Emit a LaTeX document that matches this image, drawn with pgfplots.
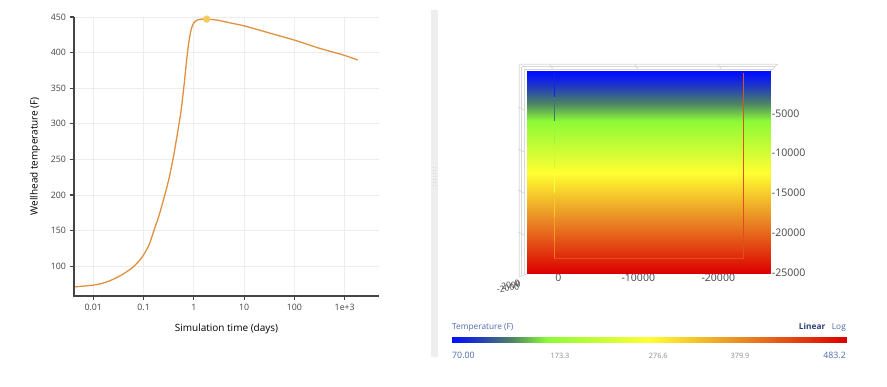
\documentclass[border=0pt]{standalone}
\usepackage{pgfplots}
\pgfplotsset{compat=1.18}
\usepackage{fontspec}
\setmainfont{Open Sans}
\definecolor{cAx}{HTML}{444444}
\definecolor{cGrid}{HTML}{EDEDED}
\definecolor{cLine}{HTML}{E0913F}
\definecolor{cMark}{HTML}{F2CD5D}
\definecolor{cFrame}{HTML}{D8D8D8}
\definecolor{cBlue}{HTML}{4F6AAB}
\definecolor{cDark}{HTML}{2B3F80}
\definecolor{cGray}{HTML}{8A8A8A}
\definecolor{cSep}{HTML}{EEEEEE}
\definecolor{cWell}{HTML}{E0501E}
\pgfplotsset{colormap={wt}{rgb255(0cm)=(0,15,255); rgb255(7cm)=(35,60,190); rgb255(15cm)=(75,130,100); rgb255(24cm)=(140,250,55); rgb255(50cm)=(255,255,50); rgb255(75cm)=(232,130,35); rgb255(100cm)=(220,0,0)}}
\begin{document}
\begin{tikzpicture}
\path[use as bounding box] (0pt,0pt) rectangle (887pt,387pt);
\fill[white] (0pt,0pt) rectangle (887pt,387pt);
% separator
\fill[cSep] (431pt,30.3pt) rectangle (438pt,377pt);
\foreach \yy in {201,204,...,219} {
  \fill[cFrame] (432.6pt,\yy pt) rectangle (433.8pt,\yy pt+1.2pt);
  \fill[cFrame] (435.2pt,\yy pt) rectangle (436.4pt,\yy pt+1.2pt);
}
% ---------------- left chart
\begin{axis}[
  at={(74pt,91.3pt)}, anchor=south west,
  scale only axis, width=305pt, height=279pt,
  xmode=log, xmin=0.00413, xmax=4800,
  ymin=58.7, ymax=450.4,
  axis x line*=bottom, axis y line*=left,
  separate axis lines,
  every outer x axis line/.append style={-, draw=cAx, line width=1.7pt},
  every outer y axis line/.append style={-, draw=cAx, line width=1.7pt},
  xtick align=outside, ytick align=outside, major tick length=4.5pt,
  every tick/.append style={draw=cAx, line width=1.1pt},
  minor tick num=0, xminorticks=false,
  grid=major, major grid style={cGrid, line width=0.8pt},
  xtick={0.01,0.1,1,10,100,1000},
  xticklabels={0.01,0.1,1,10,100,1e+3},
  ytick={100,150,...,450},
  /pgf/number format/assume math mode=true,
  ticklabel style={font=\fontsize{8.8}{10}\selectfont, text=cAx},
  xlabel={Simulation time (days)},
  ylabel={Wellhead temperature (F)},
  label style={font=\fontsize{9.3}{11}\selectfont, text=cAx},
  every axis x label/.style={at={(axis description cs:0.5,-0.1194)}, anchor=center},
  every axis y label/.style={at={(axis description cs:-0.128,0.5)}, rotate=90, anchor=center},
  clip=false,
]
\addplot[cLine, line width=1.3pt, line join=round, smooth, tension=0.45] coordinates {
(0.0041,71) (0.006,72) (0.01,73.5) (0.015,76) (0.021,79.5) (0.03,84.5) (0.04,89.5)
(0.05,94) (0.063,99.5) (0.08,107) (0.1,116) (0.13,131) (0.16,150) (0.2,170)
(0.25,194) (0.32,223) (0.4,257) (0.485,292) (0.55,316) (0.63,351) (0.7,382)
(0.76,405) (0.82,421) (0.88,432) (0.95,439) (1.05,443.5) (1.2,446) (1.5,447)
(1.8,447) (3,445.5) (5,442) (10,437.5) (30,428) (100,417.5) (300,406.5)
(1000,396) (1815,389.5)
};
\addplot[only marks, color=cMark, mark=*, mark size=3.4pt, mark options={draw=cMark, fill=cMark}] coordinates {(1.8,447)};
\end{axis}
\draw[cAx, line width=1.8pt] (74pt,90.45pt) -- (74pt,370.3pt);
\foreach \yy in {100,150,...,450} {
  \draw[cAx, line width=1.1pt] (73pt,91.3pt+\yy pt*0.71226-58.7pt*0.71226) -- (69.5pt,91.3pt+\yy pt*0.71226-58.7pt*0.71226);
}
% ---------------- 3D frame decorations
\begin{scope}[cFrame, line width=0.8pt]
\draw (519.3pt,322.7pt) -- (777.3pt,322.7pt) -- (770.7pt,316pt);
\draw (521.7pt,320.3pt) -- (775pt,320.3pt);
\draw (524.3pt,318pt) -- (772.5pt,318pt);
\draw (519.3pt,322.7pt) -- (519.3pt,110.3pt) -- (526.7pt,113pt);
\draw (521.7pt,320.3pt) -- (521.7pt,111.5pt);
\draw (524.3pt,318pt) -- (524.3pt,112.7pt);
\foreach \xx in {551.7,636.7,720} {\draw (\xx pt-2pt,322.7pt) -- (\xx pt+1pt,318pt);}
\foreach \yy in {277,235,194,152} {\draw (518pt,\yy pt+3pt) -- (524.3pt,\yy pt);}
\end{scope}
\node[text=cAx, font=\fontsize{8.5}{10}\selectfont, rotate=8] at (508pt,99pt) {-2000};
\node[text=cAx, font=\fontsize{8.5}{10}\selectfont, rotate=8] at (511pt,102pt) {2000};
\node[text=cAx, font=\fontsize{8.5}{10}\selectfont, rotate=8] at (517pt,104pt) {0};
% ---------------- right panel
\begin{axis}[
  at={(526.7pt,113pt)}, anchor=south west,
  scale only axis, width=244pt, height=203.3pt,
  xmin=-26550, xmax=3950, x dir=reverse,
  ymin=-25163, ymax=345,
  axis line style={draw=none}, tick style={draw=none},
  scaled ticks=false,
  colormap name=wt, point meta min=70, point meta max=483.2,
  xtick={0,-10000,-20000}, xticklabels={0,-10000,-20000},
  ytick={-5000,-10000,-15000,-20000,-25000},
  yticklabels={-5000,-10000,-15000,-20000,-25000},
  yticklabel pos=right,
  ticklabel style={font=\fontsize{10.5}{12}\selectfont, text=cAx},
  yticklabel style={anchor=west, inner sep=0pt, xshift=1pt},
  xticklabel style={anchor=center, yshift=-4pt},
  clip=true,
]
\addplot[surf, shader=interp, mesh/cols=2, mesh/rows=28, point meta=explicit] table[meta=t] {
x y t
3950 345 70
-26550 345 70
3950 0 70
-26550 0 70
3950 -1000 86.53
-26550 -1000 86.53
3950 -2000 103.06
-26550 -2000 103.06
3950 -3000 119.58
-26550 -3000 119.58
3950 -4000 136.11
-26550 -4000 136.11
3950 -5000 152.64
-26550 -5000 152.64
3950 -6000 169.17
-26550 -6000 169.17
3950 -7000 185.70
-26550 -7000 185.70
3950 -8000 202.22
-26550 -8000 202.22
3950 -9000 218.75
-26550 -9000 218.75
3950 -10000 235.28
-26550 -10000 235.28
3950 -11000 251.81
-26550 -11000 251.81
3950 -12000 268.34
-26550 -12000 268.34
3950 -13000 284.86
-26550 -13000 284.86
3950 -14000 301.39
-26550 -14000 301.39
3950 -15000 317.92
-26550 -15000 317.92
3950 -16000 334.45
-26550 -16000 334.45
3950 -17000 350.98
-26550 -17000 350.98
3950 -18000 367.50
-26550 -18000 367.50
3950 -19000 384.03
-26550 -19000 384.03
3950 -20000 400.56
-26550 -20000 400.56
3950 -21000 417.09
-26550 -21000 417.09
3950 -22000 433.62
-26550 -22000 433.62
3950 -23000 450.14
-26550 -23000 450.14
3950 -24000 466.67
-26550 -24000 466.67
3950 -25000 483.2
-26550 -25000 483.2
3950 -25163 483.2
-26550 -25163 483.2
};
\addplot[mesh, point meta=explicit, line width=0.9pt] table[meta=t] {
x y t
500 0 60
500 -3000 100
500 -6000 150
500 -9000 200
500 -12000 250
500 -15000 300
500 -18000 340
500 -21000 370
500 -23250 395
};
\addplot[cWell, line width=1pt] coordinates {(500,-23250) (-23200,-23250) (-23200,0)};
\end{axis}
% ---------------- colour bar
\begin{axis}[
  at={(452pt,44.3pt)}, anchor=south west,
  scale only axis, width=394pt, height=6pt,
  xmin=70, xmax=483.2, ymin=0, ymax=1, hide axis,
  colormap name=wt, point meta min=70, point meta max=483.2,
]
\addplot[surf, shader=interp, mesh/cols=21, mesh/rows=2, point meta=x] coordinates {
(70,0) (90.66,0) (111.32,0) (131.98,0) (152.64,0) (173.3,0) (193.96,0) (214.62,0) (235.28,0) (255.94,0) (276.6,0)
(297.26,0) (317.92,0) (338.58,0) (359.24,0) (379.9,0) (400.56,0) (421.22,0) (441.88,0) (462.54,0) (483.2,0)
(70,1) (90.66,1) (111.32,1) (131.98,1) (152.64,1) (173.3,1) (193.96,1) (214.62,1) (235.28,1) (255.94,1) (276.6,1)
(297.26,1) (317.92,1) (338.58,1) (359.24,1) (379.9,1) (400.56,1) (421.22,1) (441.88,1) (462.54,1) (483.2,1)
};
\end{axis}
\node[anchor=base west, inner sep=0pt, text=cBlue, font=\fontsize{8.3}{10}\selectfont] at (452pt,57pt) {Temperature (F)};
\node[anchor=base east, inner sep=0pt, text=cDark, font=\bfseries\fontsize{8.3}{10}\selectfont] at (825.5pt,57pt) {Linear};
\node[anchor=base east, inner sep=0pt, text=cBlue, font=\fontsize{8.3}{10}\selectfont] at (846pt,57pt) {Log};
\node[anchor=west, inner sep=0pt, text=cBlue, font=\fontsize{8.8}{10}\selectfont] at (452pt,31.3pt) {70.00};
\node[anchor=center, inner sep=0pt, text=cGray, font=\fontsize{7.3}{9}\selectfont] at (560pt,31.5pt) {173.3};
\node[anchor=center, inner sep=0pt, text=cGray, font=\fontsize{7.3}{9}\selectfont] at (658.3pt,31.5pt) {276.6};
\node[anchor=center, inner sep=0pt, text=cGray, font=\fontsize{7.3}{9}\selectfont] at (740pt,31.5pt) {379.9};
\node[anchor=east, inner sep=0pt, text=cBlue, font=\fontsize{8.8}{10}\selectfont] at (846pt,31.3pt) {483.2};
\end{tikzpicture}
\end{document}
